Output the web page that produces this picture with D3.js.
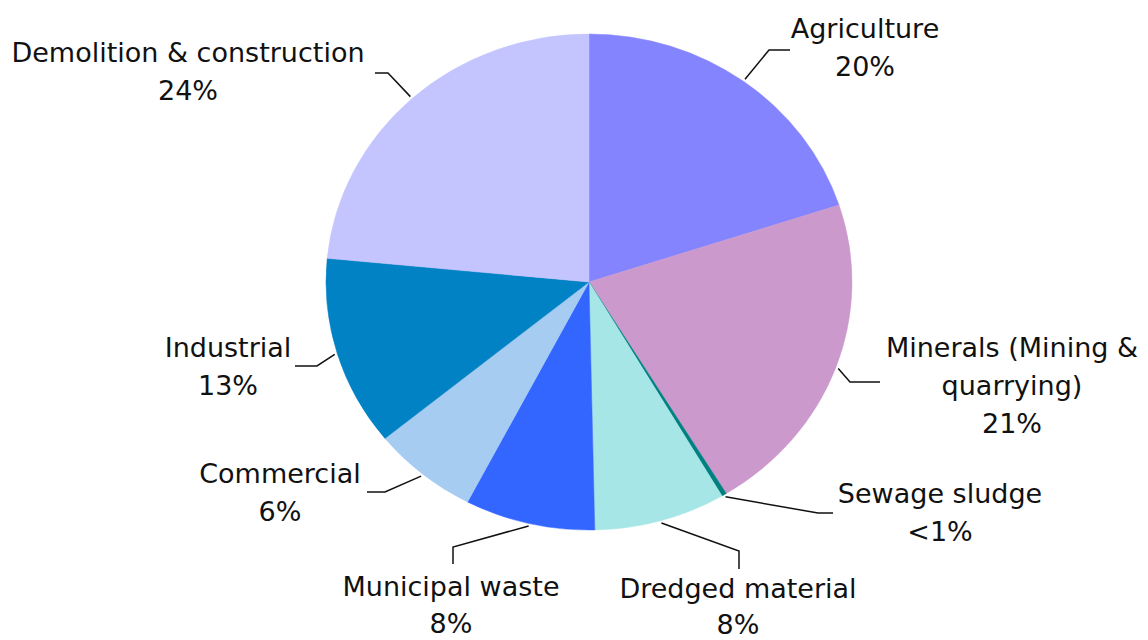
<!DOCTYPE html>
<html>
<head>
<meta charset="utf-8">
<script src="https://cdn.jsdelivr.net/npm/d3@7"></script>
<style>
  body { margin: 0; background: #fff; }
</style>
</head>
<body>
<div id="chart"></div>
<script>
// data, clockwise from 12 o'clock
const categories = ["Agriculture", "Minerals (Mining & quarrying)", "Sewage sludge", "Dredged material",
                    "Municipal waste", "Commercial", "Industrial", "Demolition & construction"];
const values = [20.0, 21.3, 0.3, 8.1, 8.0, 6.5, 12.4, 23.5];
const pctLabels = ["20%", "21%", "<1%", "8%", "8%", "6%", "13%", "24%"];
const colors = ["#8484FF", "#CC99CC", "#008080", "#A6E6E6", "#3366FF", "#A6CCF2", "#0082C4", "#C4C4FF"];

// label text lines (name split like the original)
const nameLines = [["Agriculture"], ["Minerals (Mining &", "quarrying)"], ["Sewage sludge"], ["Dredged material"],
                   ["Municipal waste"], ["Commercial"], ["Industrial"], ["Demolition & construction"]];

// label layout: text centre x, first baseline y, line gap, leader elbow and end
const labelLayout = [
    { x: 865, y: 38, gap: 38, elbow: [769, 50], end: [790, 50] },
    { x: 1012, y: 357, gap: 38, elbow: [850, 382], end: [880, 382] },
    { x: 940, y: 503, gap: 38, elbow: [818, 513], end: [833, 513] },
    { x: 738, y: 598, gap: 36, elbow: [739, 551], end: [739, 569] },
    { x: 451, y: 596, gap: 37, elbow: [453, 547], end: [453, 564] },
    { x: 280, y: 483, gap: 38, elbow: [385, 492], end: [367, 492] },
    { x: 228, y: 357, gap: 38, elbow: [317, 366], end: [295, 366] },
    { x: 188, y: 62, gap: 38, elbow: [388, 73], end: [375, 73] }
];

const width = 1148, height = 640;
const cx = 589, cy = 282;
const rx = 263, ry = 248;

const svg = d3.select("#chart")
    .append("svg")
    .attr("width", width)
    .attr("height", height);

svg.append("rect").attr("width", width).attr("height", height).attr("fill", "#fff");

const data = categories.map((c, i) => ({ name: c, value: values[i], i: i }));

const pie = d3.pie()
    .sort(null)
    .value(d => d.value);

const arcs = pie(data);

const arc = d3.arc()
    .innerRadius(0)
    .outerRadius(rx);

// pie is a little squashed vertically in the original
const g = svg.append("g")
    .attr("transform", `translate(${cx},${cy}) scale(1,${ry / rx})`);

g.selectAll("path")
    .data(arcs)
    .enter()
    .append("path")
    .attr("d", arc)
    .attr("fill", d => colors[d.data.i])
    .attr("stroke", d => colors[d.data.i])
    .attr("stroke-width", 0.5);

// leader lines
const anchor = function(d) {
    const a = (d.startAngle + d.endAngle) / 2;
    return [cx + rx * 1.01 * Math.sin(a), cy - ry * 1.01 * Math.cos(a)];
};

svg.selectAll("polyline")
    .data(arcs)
    .enter()
    .append("polyline")
    .attr("points", d => {
        const L = labelLayout[d.data.i];
        return [anchor(d), L.elbow, L.end].map(p => p.join(",")).join(" ");
    })
    .attr("fill", "none")
    .attr("stroke", "#111")
    .attr("stroke-width", 1.5);

// labels
const labels = svg.selectAll("text.lbl")
    .data(arcs)
    .enter()
    .append("text")
    .attr("class", "lbl")
    .attr("text-anchor", "middle")
    .attr("font-family", "DejaVu Sans, sans-serif")
    .attr("font-size", "27px")
    .attr("fill", "#111");

labels.each(function(d) {
    const L = labelLayout[d.data.i];
    const lines = nameLines[d.data.i].concat([pctLabels[d.data.i]]);
    d3.select(this).selectAll("tspan")
        .data(lines)
        .enter()
        .append("tspan")
        .attr("x", L.x)
        .attr("y", (t, k) => L.y + k * L.gap)
        .text(t => t);
});
</script>
</body>
</html>
